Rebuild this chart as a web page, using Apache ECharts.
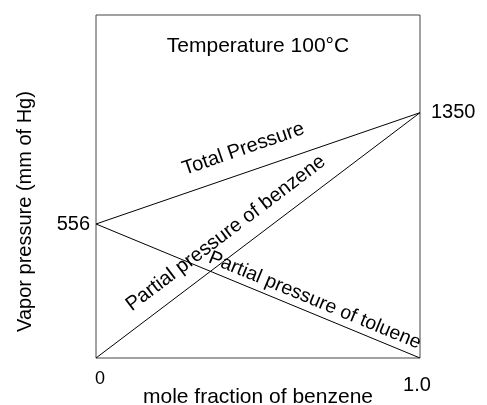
<!DOCTYPE html>
<html>
<head>
<meta charset="utf-8">
<style>
  html, body { margin: 0; padding: 0; background: #fff; }
  #chart { width: 487px; height: 405px; }
</style>
<script src="https://cdn.jsdelivr.net/npm/echarts@6/dist/echarts.min.js"></script>
</head>
<body>
<div id="chart"></div>
<script>
// ---- data ----
const moleFraction = [0, 1];            // x: mole fraction of benzene
const totalPressure = [556, 1350];      // mm Hg
const benzenePressure = [0, 1350];      // mm Hg
const toluenePressure = [556, 0];       // mm Hg
const xTickLabels = ['0', '1.0'];
const leftTickValues = [556];
const rightTickValues = [1350];
const lineNames = ['Total Pressure', 'Partial pressure of benzene', 'Partial pressure of toluene'];
const titleText = 'Temperature 100\u00B0C';
const xAxisTitle = 'mole fraction of benzene';
const yAxisTitle = 'Vapor pressure (mm of Hg)';

// ---- layout (schematic, not-to-scale drawing: fraction of plot height) ----
const pos556 = 0.3907, pos1350 = 0.7152;
const FONT = '"Liberation Sans", Arial, Helvetica, sans-serif';

const chart = echarts.init(document.getElementById('chart'), null, { renderer: 'canvas' });

const slope = (pos1350 - pos556) / (1350 - 556);
const icpt = pos556 - 556 * slope;

function pairs(ys) { return moleFraction.map((x, i) => [x, ys[i]]); }

const option = {
  animation: false,
  backgroundColor: '#fff',
  title: {
    text: titleText,
    left: 253, top: 31, textAlign: 'center',
    textStyle: { fontFamily: FONT, fontSize: 21, fontWeight: 'normal', color: '#000' }
  },
  grid: { left: 96, right: 67, top: 15, bottom: 47, show: true, borderColor: '#444', borderWidth: 1, containLabel: false, outerBoundsMode: 'none' },
  xAxis: {
    type: 'value', min: 0, max: 1,
    axisLine: { show: false }, axisTick: { show: false }, splitLine: { show: false },
    axisLabel: {
      customValues: moleFraction, margin: 12,
      formatter: v => { const i = moleFraction.indexOf(v); return i === 0 ? '{a|' + xTickLabels[0] + '}' : '{b|' + xTickLabels[i] + '}'; },
      rich: {
        a: { fontFamily: FONT, fontSize: 18, color: '#000', padding: [0, 0, 0, 8] },
        b: { fontFamily: FONT, fontSize: 20, color: '#000', padding: [5, 6, 0, 0] }
      }
    },
    name: xAxisTitle, nameLocation: 'middle', nameGap: 29, nameMoveOverlap: false,
    nameTextStyle: { fontFamily: FONT, fontSize: 21, color: '#000', verticalAlign: 'top' }
  },
  yAxis: [
    { // toluene / left labels
      type: 'value', position: 'left', min: 0, max: 556 / pos556,
      axisLine: { show: false }, axisTick: { show: false }, splitLine: { show: false },
      axisLabel: { customValues: leftTickValues, margin: 6, fontFamily: FONT, fontSize: 20, color: '#000', formatter: v => String(v) },
      name: yAxisTitle, nameLocation: 'middle', nameGap: 61, nameRotate: 90, nameMoveOverlap: false,
      nameTextStyle: { fontFamily: FONT, fontSize: 20, color: '#000', padding: [0, 50, 0, 0] }
    },
    { // benzene / right labels
      type: 'value', position: 'right', min: 0, max: 1350 / pos1350,
      axisLine: { show: false }, axisTick: { show: false }, splitLine: { show: false },
      axisLabel: { customValues: rightTickValues, margin: 11, fontFamily: FONT, fontSize: 20, color: '#000', formatter: v => String(v) }
    },
    { // total
      type: 'value', show: false, min: -icpt / slope, max: (1 - icpt) / slope,
      splitLine: { show: false }
    }
  ],
  series: [
    { name: lineNames[0], type: 'line', yAxisIndex: 2, data: pairs(totalPressure), showSymbol: false, lineStyle: { color: '#000', width: 1 } },
    { name: lineNames[1], type: 'line', yAxisIndex: 1, data: pairs(benzenePressure), showSymbol: false, lineStyle: { color: '#000', width: 1 } },
    { name: lineNames[2], type: 'line', yAxisIndex: 0, data: pairs(toluenePressure), showSymbol: false, lineStyle: { color: '#000', width: 1 } }
  ]
};
chart.setOption(option);

// line labels placed along each line (fraction t along it, distance above it)
const labelSpecs = [
  { name: lineNames[0], axis: 2, ys: totalPressure, t: 0.478, d: 23, size: 20 },
  { name: lineNames[1], axis: 1, ys: benzenePressure, t: 0.44, d: 21, size: 20 },
  { name: lineNames[2], axis: 0, ys: toluenePressure, t: 0.66, d: 13, size: 19.5 }
];
const graphics = labelSpecs.map(s => {
  const a = chart.convertToPixel({ xAxisIndex: 0, yAxisIndex: s.axis }, [moleFraction[0], s.ys[0]]);
  const b = chart.convertToPixel({ xAxisIndex: 0, yAxisIndex: s.axis }, [moleFraction[1], s.ys[1]]);
  const dx = b[0] - a[0], dy = b[1] - a[1], len = Math.hypot(dx, dy);
  const nx = dy / len, ny = -dx / len; // upward normal
  return {
    type: 'text',
    x: a[0] + s.t * dx + s.d * nx,
    y: a[1] + s.t * dy + s.d * ny,
    rotation: -Math.atan2(dy, dx),
    style: { text: s.name, fontFamily: FONT, fontSize: s.size, fill: '#000', align: 'center', verticalAlign: 'middle' },
    z: 10
  };
});
chart.setOption({ graphic: graphics });
</script>
</body>
</html>
